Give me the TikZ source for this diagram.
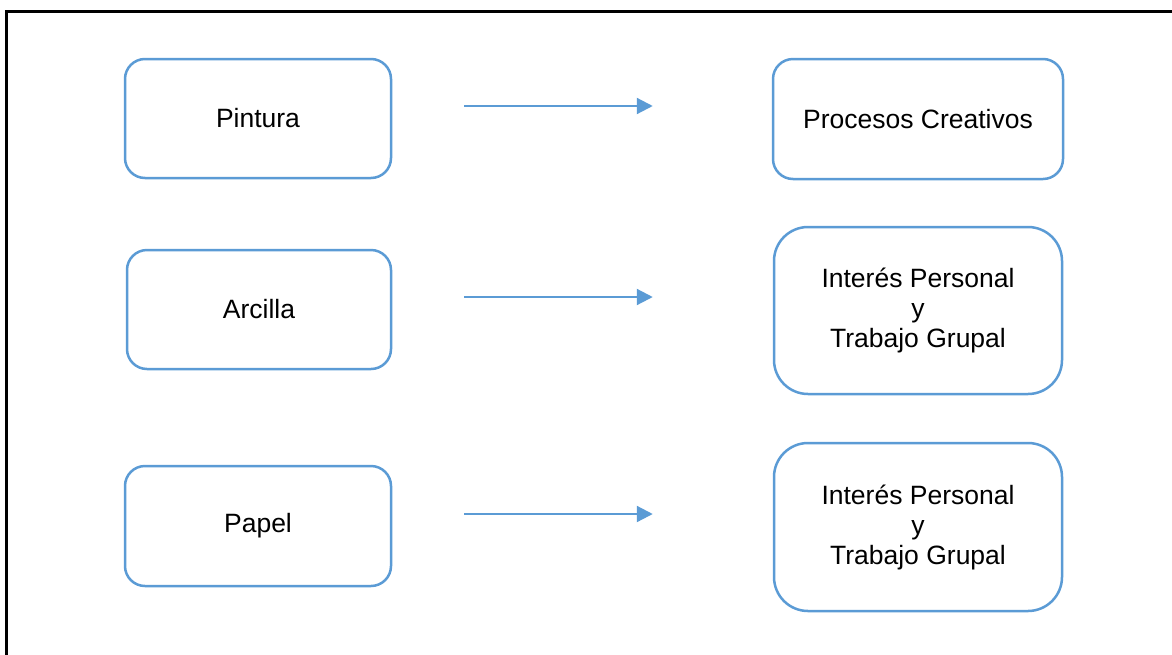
\documentclass[tikz,border=0pt]{standalone}
\usepackage{fontspec}
\setmainfont{Liberation Sans}
\usetikzlibrary{arrows.meta}
\definecolor{boxblue}{HTML}{5B9BD5}
\tikzset{
  boxa/.style={draw=boxblue, line width=2.5pt, rounded corners=20pt, fill=white,
    font=\fontsize{26.5}{30}\selectfont, align=center, inner sep=0pt},
  boxb/.style={boxa, rounded corners=34pt},
  arr/.style={draw=boxblue, line width=2.2pt, -{Triangle[length=16pt,width=16pt]}},
}
\begin{document}
\begin{tikzpicture}[x=1pt,y=-1pt]
\useasboundingbox (0,0) rectangle (1172,654);
\draw[line width=2.2pt, line cap=rect] (6.5,654) -- (6.5,11.5) -- (1172,11.5);
\node[boxa, minimum width=266pt, minimum height=119pt] (p) at (258,118.5) {Pintura};
\node[boxa, minimum width=264pt, minimum height=119pt] (a) at (259,309.5) {Arcilla};
\node[boxa, minimum width=266pt, minimum height=120pt] (pa) at (258,526) {Papel};
\node[boxa, minimum width=290pt, minimum height=120pt] (pc) at (918,119) {Procesos Creativos};
\node[boxb, minimum width=288pt, minimum height=167pt] (i1) at (918,310.5) {Interés Personal\\y\\Trabajo Grupal};
\node[boxb, minimum width=288pt, minimum height=168pt] (i2) at (918,527) {Interés Personal\\y\\Trabajo Grupal};
\draw[arr, shorten <=72pt, shorten >=119pt] ([yshift=12.5pt]p.east) -- ([yshift=13pt]pc.west);
\draw[arr, shorten <=72pt, shorten >=120pt] ([yshift=12.5pt]a.east) -- ([yshift=13.5pt]i1.west);
\draw[arr, shorten <=72pt, shorten >=120pt] ([yshift=12pt]pa.east) -- ([yshift=13pt]i2.west);
\end{tikzpicture}
\end{document}
